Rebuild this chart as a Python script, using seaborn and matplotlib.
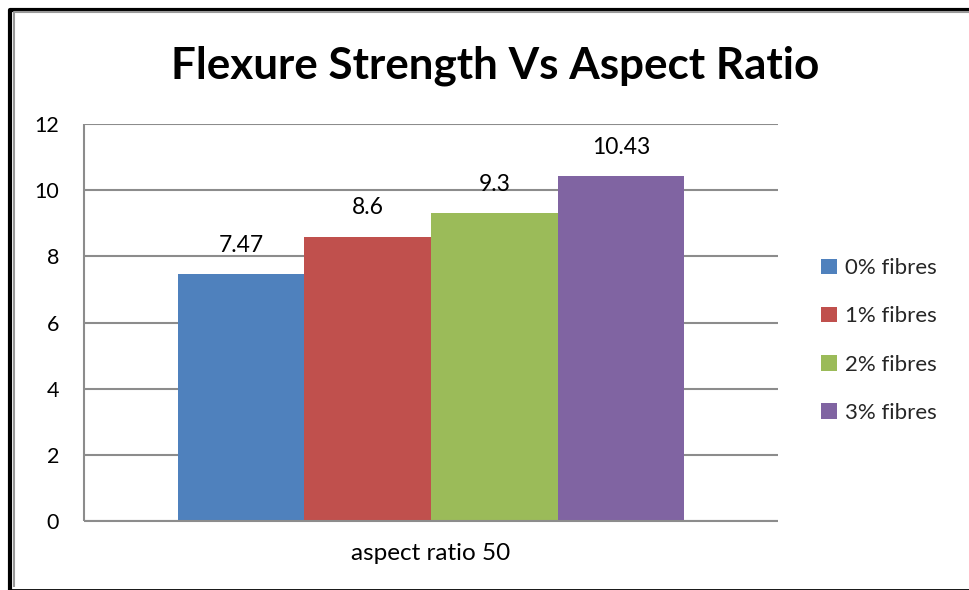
import matplotlib
matplotlib.use("Agg")
import matplotlib.pyplot as plt
from matplotlib.lines import Line2D
import seaborn as sns
import pandas as pd

# Chart data
categories = ["aspect ratio 50"]
series_names = ["0% fibres", "1% fibres", "2% fibres", "3% fibres"]
series_values = [7.47, 8.6, 9.3, 10.43]
colors = ["#4F81BD", "#C0504D", "#9BBB59", "#8064A2"]
y_ticks = [0, 2, 4, 6, 8, 10, 12]
title = "Flexure Strength Vs Aspect Ratio"

df = pd.DataFrame({
    "category": categories * len(series_names),
    "series": series_names,
    "value": series_values,
})

sns.set_theme(style="white")
plt.rcParams["font.family"] = ["Lato", "DejaVu Sans"]

fig = plt.figure(figsize=(9.7, 5.9), dpi=100)
ax = fig.add_axes([0.0866, 0.1169, 0.7155, 0.6729])

sns.barplot(data=df, x="category", y="value", hue="series",
            palette=colors, width=0.73, gap=0, saturation=1,
            edgecolor="none", linewidth=0, ax=ax)

ax.set_xlim(-0.5, 0.5)
ax.set_ylim(0, 12)
ax.set_yticks(y_ticks)
ax.set_yticklabels([str(t) for t in y_ticks])
ax.set_xlabel("")
ax.set_ylabel("")

grid_color = "#8C8C8C"
ax.yaxis.grid(True, color=grid_color, linewidth=1.5)
ax.set_axisbelow(True)
for side in ("top", "right"):
    ax.spines[side].set_visible(False)
for side in ("left", "bottom"):
    ax.spines[side].set_color(grid_color)
    ax.spines[side].set_linewidth(1.5)
    ax.spines[side].set_capstyle("butt")

ax.tick_params(axis="y", length=0, pad=18, labelsize=15.5, labelcolor="#000000")
ax.tick_params(axis="x", length=0, pad=16, labelsize=17.5, labelcolor="#000000")

# Value labels above each bar
for container in ax.containers:
    for bar in container:
        h = bar.get_height()
        ax.annotate(f"{h:g}", (bar.get_x() + bar.get_width() / 2, h),
                    xytext=(0, 13), textcoords="offset points",
                    ha="center", va="bottom", fontsize=16.5, color="#000000")

handles, labels = ax.get_legend_handles_labels()
ax.legend(handles, labels, loc="center left",
          bbox_to_anchor=(0.826, 0.423), bbox_transform=fig.transFigure,
          frameon=False, fontsize=16, handlelength=0.7, handleheight=0.7,
          handletextpad=0.35, labelspacing=1.27)

fig.text(0.51, 0.888, title, ha="center", va="center",
         fontsize=31.7, fontweight="bold", color="#000000")

# Chart frame: black outer line with a gray inner line (left, top, bottom)
W, H = 970.0, 590.0
def frame_line(xs, ys, color, lw):
    fig.add_artist(Line2D([x / W for x in xs], [1 - y / H for y in ys],
                          transform=fig.transFigure, color=color,
                          linewidth=lw, solid_capstyle="butt"))

frame_line([10, 10, 970], [589.5, 9.5, 9.5], "#000000", 3)
frame_line([14.5, 14.5, 970], [586.5, 12, 12], "#999999", 1.5)
frame_line([10, 970], [589.5, 589.5], "#000000", 2)

fig.savefig("out.png", dpi=100, facecolor="white")
